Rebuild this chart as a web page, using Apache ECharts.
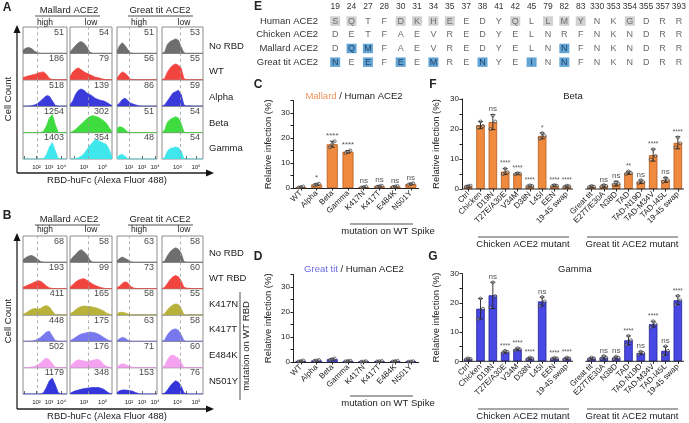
<!DOCTYPE html>
<html>
<head>
<meta charset="utf-8">
<script src="https://cdn.jsdelivr.net/npm/echarts@6/dist/echarts.min.js"></script>
<style>
  html, body { margin: 0; padding: 0; background: #fff; }
  #main { width: 689px; height: 423px; }
</style>
</head>
<body>
<div id="main"></div>
<script>
// ---------- A / B : flow cytometry histograms ----------
// log10 range shown by each column, gate line, decade labels
var colRange = [[0.92, 4.44], [1.5, 6.0], [1.08, 4.15], [1.36, 5.75]];
var colGate = [2.07, 3.46, 2.02, 3.29];
var colLabels = [[2, 3, 4], [3, 5], [2, 3, 4], [3, 5]];
var colTicks = [[1, 2, 3, 4], [2, 3, 4, 5], [2, 3, 4], [2, 3, 4, 5]];

var aRows = ['No RBD', 'WT', 'Alpha', 'Beta', 'Gamma'];
var aMFI = [[51, 54, 51, 53], [186, 79, 56, 55], [518, 139, 86, 59], [1254, 302, 51, 54], [1403, 354, 48, 54]];
var aColors = ['#6e6e6e', '#f2443f', '#3b3bdc', '#3fdc3f', '#3fe6ec'];
var aHist = [
  [[0.12,0.2,0.22,0.18,0.08,0.02,0,0,0,0,0,0,0,0,0,0],
   [0.05,0.18,0.3,0.4,0.45,0.38,0.25,0.05,0,0,0,0,0,0,0,0],
   [0.08,0.3,0.4,0.3,0.15,0.02,0,0,0,0,0,0,0,0,0,0],
   [0,0.05,0.35,0.45,0.5,0.55,0.5,0.25,0.02,0,0,0,0,0,0,0]],
  [[0.08,0.12,0.15,0.18,0.2,0.25,0.28,0.3,0.2,0.05,0.01,0,0,0,0,0],
   [0.1,0.3,0.4,0.45,0.38,0.3,0.25,0.2,0.15,0.1,0.08,0.05,0.02,0,0,0],
   [0.05,0.2,0.3,0.25,0.15,0.02,0,0,0,0,0,0,0,0,0,0],
   [0,0.05,0.3,0.45,0.55,0.6,0.55,0.45,0.05,0,0,0,0,0,0,0]],
  [[0,0,0,0.02,0.05,0.1,0.2,0.3,0.4,0.38,0.2,0.03,0,0,0,0],
   [0.05,0.2,0.45,0.6,0.65,0.6,0.5,0.45,0.38,0.3,0.25,0.22,0.2,0.15,0.08,0.02],
   [0.03,0.12,0.25,0.3,0.22,0.12,0.08,0.05,0.02,0,0,0,0,0,0,0],
   [0,0.05,0.2,0.35,0.5,0.55,0.6,0.45,0.05,0,0.02,0,0,0,0,0]],
  [[0,0,0,0,0,0,0,0.05,0.25,0.55,0.68,0.3,0,0,0,0],
   [0,0.05,0.12,0.22,0.32,0.42,0.52,0.6,0.64,0.62,0.58,0.52,0.45,0.35,0.18,0.04],
   [0.15,0.22,0.2,0.12,0.02,0,0,0,0,0,0,0,0,0,0,0],
   [0,0.1,0.4,0.5,0.55,0.6,0.55,0.35,0.02,0,0,0,0,0,0,0]],
  [[0,0,0,0,0,0,0,0.02,0.15,0.45,0.62,0.3,0.02,0,0,0],
   [0,0,0.02,0.05,0.1,0.2,0.35,0.5,0.62,0.74,0.7,0.65,0.6,0.55,0.35,0.08],
   [0.05,0.15,0.17,0.1,0.02,0,0,0,0,0,0,0,0,0,0,0],
   [0,0.05,0.3,0.4,0.42,0.45,0.43,0.3,0.02,0,0,0,0,0,0,0]]
];

var bRows = ['No RBD', 'WT RBD', 'K417N', 'K417T', 'E484K', 'N501Y'];
var bMFI = [[68, 58, 63, 58], [193, 99, 73, 60], [411, 165, 58, 55], [448, 175, 63, 58], [502, 176, 71, 60], [1179, 348, 153, 76]];
var bColors = ['#6e6e6e', '#f2443f', '#b8b23a', '#7878ee', '#f5a3f0', '#3535dc'];
var bHist = [
  [[0.1,0.18,0.24,0.26,0.2,0.12,0.03,0,0,0,0,0,0,0,0,0],
   [0.05,0.2,0.3,0.42,0.48,0.4,0.3,0.1,0.01,0,0,0,0,0,0,0],
   [0.05,0.15,0.2,0.15,0.1,0.03,0,0,0,0,0,0,0,0,0,0],
   [0,0.05,0.25,0.4,0.5,0.55,0.5,0.35,0.03,0,0,0,0,0,0,0]],
  [[0.05,0.1,0.15,0.2,0.25,0.3,0.28,0.2,0.1,0.03,0.01,0,0,0,0,0],
   [0.05,0.15,0.25,0.32,0.36,0.38,0.32,0.25,0.18,0.12,0.08,0.04,0.02,0,0,0],
   [0.03,0.1,0.2,0.26,0.22,0.1,0.03,0.01,0,0,0,0,0,0,0,0],
   [0,0.05,0.2,0.35,0.45,0.5,0.45,0.3,0.05,0.02,0.01,0,0,0,0,0]],
  [[0.02,0.08,0.15,0.22,0.25,0.22,0.25,0.32,0.36,0.3,0.15,0.02,0,0,0,0],
   [0.05,0.1,0.2,0.28,0.32,0.34,0.33,0.32,0.3,0.28,0.25,0.2,0.15,0.08,0.03,0],
   [0.05,0.1,0.1,0.08,0.05,0.02,0,0,0,0,0,0,0,0,0,0],
   [0,0.05,0.2,0.3,0.38,0.42,0.4,0.25,0.02,0,0,0,0,0,0,0]],
  [[0,0,0,0.01,0.03,0.08,0.15,0.25,0.35,0.38,0.2,0.03,0,0,0,0],
   [0.02,0.08,0.15,0.22,0.28,0.3,0.33,0.35,0.34,0.32,0.28,0.22,0.15,0.08,0.03,0],
   [0.02,0.1,0.15,0.12,0.05,0.01,0,0,0,0,0,0,0,0,0,0],
   [0,0.05,0.25,0.38,0.45,0.47,0.42,0.25,0.03,0,0,0,0,0,0,0]],
  [[0,0,0.01,0.03,0.05,0.1,0.18,0.3,0.36,0.3,0.15,0.02,0,0,0,0],
   [0.05,0.15,0.25,0.3,0.28,0.25,0.22,0.25,0.28,0.3,0.32,0.25,0.12,0.05,0.02,0],
   [0.03,0.1,0.15,0.12,0.08,0.04,0.02,0,0,0,0,0,0,0,0,0],
   [0,0.08,0.3,0.45,0.48,0.42,0.35,0.2,0.03,0,0,0,0,0,0,0]],
  [[0,0,0,0,0,0,0,0.05,0.25,0.5,0.6,0.35,0.05,0,0,0],
   [0.02,0.08,0.12,0.15,0.18,0.2,0.22,0.23,0.25,0.24,0.25,0.22,0.18,0.1,0.03,0],
   [0.05,0.12,0.15,0.15,0.14,0.12,0.1,0.05,0.02,0,0,0,0,0,0,0],
   [0,0.03,0.15,0.3,0.42,0.5,0.45,0.3,0.05,0,0,0,0,0,0,0]]
];

// ---------- E : alignment ----------
var ePositions = ['19','24','27','28','30','31','34','35','37','38','41','42','45','79','82','83','330','353','354','355','357','393'];
var eSpecies = ['Human ACE2', 'Chicken ACE2', 'Mallard ACE2', 'Great tit ACE2'];
var eSeqs = ['SQTFDKHEEDYQLLMYNKGDRR', 'DETFAEVREDYELNRFNKNDRR', 'DQMFAEVREDYELNNFNKNDRR', 'NEEFEEMRENYEINNFNKNDRR'];
var humanShaded = ['19','24','30','31','34','35','42','79','82','83','354'];
var mallardBlue = ['24','27','82'];
var greatTitBlue = ['19','27','30','34','38','45','82'];

// ---------- C / D : variant spikes ----------
var spikeCats = ['WT', 'Alpha', 'Beta', 'Gamma', 'K417N', 'K417T', 'E484K', 'N501Y'];
var cMean = [0.4, 1.4, 17.5, 14.5, 0.4, 0.7, 0.6, 1.6];
var cSD = [0.15, 0.3, 1.2, 0.5, 0.15, 0.2, 0.15, 0.3];
var cDots = [[0.2,0.4,0.6],[1.1,1.4,1.7],[16.3,17.5,18.7],[14.0,14.5,15.0],[0.2,0.4,0.6],[0.5,0.7,0.9],[0.4,0.6,0.8],[1.3,1.6,1.9]];
var cSig = ['', '*', '****', '****', 'ns', 'ns', 'ns', 'ns'];
var dMean = [0.4, 0.6, 1.1, 0.4, 0.2, 0.3, 0.35, 0.2];
var dSD = [0.2, 0.2, 0.3, 0.1, 0.1, 0.1, 0.15, 0.1];
var dDots = [[0.2,0.4,0.6],[0.4,0.6,0.8],[0.8,1.1,1.4],[0.3,0.4,0.5],[0.1,0.2,0.3],[0.2,0.3,0.4],[0.2,0.35,0.5],[0.1,0.2,0.3]];
var dSig = ['', '', '', '', '', '', '', ''];

// ---------- F / G : ACE2 mutants ----------
var mutCats = ['Ctrl', 'Chicken', 'D19N', 'T27E/A30E', 'V34M', 'D38N', 'L45I', 'EEN', '19-45 swap', '',
  'Great tit', 'E27T/E30A', 'N38D', 'TAD', 'TAD-N19D', 'TAD-M34V', 'TAD-I45L', '19-45 swap'];
var fMean = [0.9, 21.3, 22.3, 5.8, 5.1, 1.0, 17.7, 1.1, 0.9, null, 0.8, 1.0, 1.8, 5.4, 2.4, 11.3, 3.0, 15.4];
var fSD = [0.3, 1.2, 2.5, 1.0, 0.3, 0.3, 1.0, 0.3, 0.3, null, 0.3, 0.4, 0.8, 0.5, 0.6, 2.0, 0.8, 2.0];
var fDots = [[0.7,0.9,1.1],[20.5,22.5,21.0],[20.0,24.5,22.5],[5.0,6.8,5.6],[4.9,5.3,5.1],[0.8,1.2,1.0],[16.8,18.6,17.7],[0.9,1.3,1.1],[0.7,1.1,0.9],null,
  [0.6,1.0,0.8],[0.8,1.3,1.0],[1.5,2.2,1.7],[5.0,5.9,5.3],[2.0,2.9,2.3],[9.8,13.2,11.0],[2.4,3.7,2.9],[13.8,17.2,15.2]];
var fSig = ['', '', 'ns', '****', '****', '****', '*', '****', '****', '', '', 'ns', 'ns', '**', 'ns', '****', 'ns', '****'];
var gMean = [0.8, 18.0, 22.6, 3.2, 4.1, 1.0, 20.5, 1.0, 1.0, null, 1.0, 1.3, 1.2, 7.2, 2.8, 12.7, 3.6, 20.9];
var gSD = [0.3, 3.5, 4.5, 0.4, 0.4, 0.3, 1.5, 0.2, 0.3, null, 0.3, 0.5, 0.4, 1.5, 0.5, 1.0, 1.5, 1.5];
var gDots = [[0.6,1.0,0.8],[14.5,21.5,18.0],[18.5,27.0,22.3],[2.8,3.6,3.2],[3.7,4.5,4.1],[0.7,1.3,1.0],[19.0,22.0,20.5],[0.8,1.2,1.0],[0.7,1.3,1.0],null,
  [0.7,1.3,1.0],[0.9,1.8,1.2],[0.8,1.6,1.2],[5.7,8.7,7.2],[2.3,3.3,2.8],[11.7,13.7,12.7],[2.1,5.1,3.6],[19.4,22.4,20.9]];
var gSig = ['', '', 'ns', '****', '****', '****', 'ns', '****', '****', '', '', 'ns', 'ns', '****', 'ns', '****', 'ns', '****'];

var FONT = 'Liberation Sans, Arial, sans-serif';
var SUP = { 1: '\u00b9', 2: '\u00b2', 3: '\u00b3', 4: '\u2074', 5: '\u2075' };
var ORANGE = '#ef8a3e', BLUE = '#4848e4';

var grids = [], xAxes = [], yAxes = [], series = [], graphics = [];

function addGrid(g, x, y) {
  var i = grids.length;
  grids.push(g);
  x.gridIndex = i; y.gridIndex = i;
  xAxes.push(x); yAxes.push(y);
  return i;
}

// flow histogram block
var colBox = [[23, 67], [70, 112], [117, 157], [162, 203]];
function flowPanel(top, bottom, hist, mfi, colors) {
  var n = hist.length, h = (bottom - top) / n;
  for (var r = 0; r < n; r++) {
    for (var c = 0; c < 4; c++) {
      var last = r === n - 1;
      var lo = colRange[c][0], hi = colRange[c][1];
      var idx = addGrid(
        { left: colBox[c][0], width: colBox[c][1] - colBox[c][0], top: top + r * h, height: h,
          show: true, borderColor: '#8c8c8c', borderWidth: 1 },
        { type: 'value', min: lo, max: hi, splitLine: { show: false }, axisLine: { show: false },
          axisTick: { show: last, inside: true, length: 3, customValues: colTicks[c], lineStyle: { color: '#444', width: 0.8 } },
          axisLabel: { show: last, customValues: colLabels[c], fontSize: 6, margin: 5, color: '#222',
            formatter: function (v) { return '10' + SUP[Math.round(v)]; } } },
        { type: 'value', min: 0, max: 1, show: false }
      );
      var vals = hist[r][c];
      var step = (hi - lo) / (vals.length - 1);
      series.push({
        type: 'line', xAxisIndex: idx, yAxisIndex: idx, silent: true, symbol: 'none',
        data: vals.map(function (v, i) { return [lo + i * step, v]; }),
        lineStyle: { color: colors[r], width: 0.8 }, areaStyle: { color: colors[r], opacity: 1 },
        markLine: { symbol: 'none', silent: true, label: { show: false },
          lineStyle: { type: [3, 3], color: '#9a9a9a', width: 0.8 }, data: [{ xAxis: colGate[c] }] }
      });
      series.push({
        type: 'scatter', xAxisIndex: idx, yAxisIndex: idx, silent: true, symbolSize: 0,
        data: [[hi, 0.8]],
        label: { show: true, position: 'left', distance: 3, formatter: String(mfi[r][c]), fontSize: 9, color: '#111' }
      });
    }
  }
}
flowPanel(27, 159, aHist, aMFI, aColors);
flowPanel(236, 394, bHist, bMFI, bColors);

// bar chart panels with error bars, replicate dots and significance
function barRender(sigs, base, sigSize) {
  return function (params, api) {
    var i = api.value(0), m = api.value(1), sd = api.value(2);
    var p0 = api.coord([i, 0]);
    var pt = api.coord([i, m + sd]);
    var pb = api.coord([i, Math.max(m - sd, 0)]);
    var band = api.size([1, 0])[0];
    var ln = { stroke: '#222', lineWidth: 0.9 };
    var kids = [];
    if (base) {
      kids.push({ type: 'line', shape: { x1: p0[0] - band / 2, y1: p0[1], x2: p0[0] + band / 2, y2: p0[1] }, style: { stroke: '#222', lineWidth: 1 } });
    }
    kids.push({ type: 'line', shape: { x1: pt[0], y1: pt[1], x2: pb[0], y2: pb[1] }, style: ln });
    kids.push({ type: 'line', shape: { x1: pt[0] - 2.5, y1: pt[1], x2: pt[0] + 2.5, y2: pt[1] }, style: ln });
    kids.push({ type: 'line', shape: { x1: pb[0] - 2.5, y1: pb[1], x2: pb[0] + 2.5, y2: pb[1] }, style: ln });
    for (var k = 0; k < 3; k++) {
      var p = api.coord([i, api.value(3 + k)]);
      kids.push({ type: 'circle', shape: { cx: p[0] + (k - 1) * 2.4, cy: p[1], r: 1.5 },
        style: { fill: 'rgba(255,255,255,0.3)', stroke: '#333', lineWidth: 0.7 } });
    }
    if (sigs[i]) {
      var s = sigs[i] === 'ns' ? 8 : sigSize;
      kids.push({ type: 'text', style: { text: sigs[i], x: pt[0], y: pt[1] - 1.5, align: 'center', verticalAlign: 'bottom',
        font: s + 'px ' + FONT, fill: '#555' } });
    }
    return { type: 'group', children: kids };
  };
}

function barPanel(o) {
  var idx = addGrid(
    { left: o.left, width: o.width, top: o.top, height: o.height },
    { type: 'category', data: o.cats, boundaryGap: true,
      axisLine: { show: !o.broken, lineStyle: { color: '#222', width: 1 } },
      axisTick: { show: true, alignWithLabel: true, length: 2.5, lineStyle: { color: '#222' },
        interval: function (i, v) { return v !== ''; } },
      axisLabel: { interval: 0, rotate: 45, fontSize: 8, margin: 4, color: '#222' } },
    { type: 'value', min: 0, max: o.max, interval: 10, splitLine: { show: false },
      axisLine: { show: true, lineStyle: { color: '#222', width: 1 } },
      axisTick: { show: true, length: 2.5, customValues: o.ticks, lineStyle: { color: '#222' } },
      axisLabel: { customValues: [0, 10, 20, 30], fontSize: 8, margin: 3, color: '#222' },
      name: 'Relative infection (%)', nameLocation: 'middle', nameGap: o.nameGap,
      nameTextStyle: { fontSize: 9.5, color: '#222' } }
  );
  series.push({
    type: 'bar', xAxisIndex: idx, yAxisIndex: idx, silent: true, barWidth: o.barWidth,
    data: o.mean, itemStyle: { color: o.color, borderColor: o.border, borderWidth: 0.8 }
  });
  var items = [];
  o.mean.forEach(function (m, i) {
    if (m === null) return;
    items.push([i, m, o.sd[i], o.dots[i][0], o.dots[i][1], o.dots[i][2]]);
  });
  series.push({
    type: 'custom', xAxisIndex: idx, yAxisIndex: idx, silent: true, z: 5,
    encode: { x: 0, y: 1 }, data: items, renderItem: barRender(o.sig, o.broken, o.sigSize)
  });
}

barPanel({ left: 293, width: 125.7, top: 100.5, height: 87.5, max: 35, ticks: [0, 5, 10, 15, 20, 25, 30, 35], nameGap: 20,
  cats: spikeCats, mean: cMean, sd: cSD, dots: cDots, sig: cSig, sigSize: 8, barWidth: 11, color: ORANGE, border: '#b45a1c' });
barPanel({ left: 293, width: 125.7, top: 274.5, height: 87.5, max: 35, ticks: [0, 5, 10, 15, 20, 25, 30, 35], nameGap: 20,
  cats: spikeCats, mean: dMean, sd: dSD, dots: dDots, sig: dSig, sigSize: 8, barWidth: 11, color: BLUE, border: '#22229a' });
barPanel({ left: 462, width: 222, top: 99, height: 90, max: 30, ticks: [0, 5, 10, 15, 20, 25, 30], nameGap: 21, broken: true,
  cats: mutCats, mean: fMean, sd: fSD, dots: fDots, sig: fSig, sigSize: 6.5, barWidth: 8.5, color: ORANGE, border: '#b45a1c' });
barPanel({ left: 462, width: 222, top: 273.7, height: 87.6, max: 30, ticks: [0, 5, 10, 15, 20, 25, 30], nameGap: 21, broken: true,
  cats: mutCats, mean: gMean, sd: gSD, dots: gDots, sig: gSig, sigSize: 6.5, barWidth: 8.5, color: BLUE, border: '#22229a' });

// alignment table (E)
var eIdx = addGrid(
  { left: 327, width: 360.8, top: 14.2, height: 54.8 },
  { type: 'category', data: ePositions, position: 'top', axisLine: { show: false }, axisTick: { show: false },
    axisLabel: { interval: 0, fontSize: 8.5, margin: 3, color: '#333' } },
  { type: 'category', data: eSpecies, inverse: true, axisLine: { show: false }, axisTick: { show: false },
    axisLabel: { fontSize: 9.5, margin: 9, color: '#333' } }
);
var eMarks = [[humanShaded, 'gray'], [[], ''], [mallardBlue, 'blue'], [greatTitBlue, 'blue']];
var eCells = [];
eSeqs.forEach(function (seq, r) {
  for (var i = 0; i < seq.length; i++) {
    var mark = eMarks[r][0].indexOf(ePositions[i]) >= 0 ? eMarks[r][1] : '';
    eCells.push({
      value: [i, r], letter: seq[i],
      itemStyle: { color: mark === 'gray' ? '#c6c6c6' : mark === 'blue' ? '#3b8ecb' : 'rgba(0,0,0,0)' },
      label: { color: mark === 'blue' ? '#10264a' : mark === 'gray' ? '#555' : '#444' }
    });
  }
});
series.push({
  type: 'scatter', xAxisIndex: eIdx, yAxisIndex: eIdx, silent: true, symbol: 'rect', symbolSize: [10, 9.5],
  data: eCells,
  label: { show: true, position: 'inside', fontSize: 9, formatter: function (p) { return p.data.letter; } }
});

// ---------- annotations ----------
function txt(s, x, y, size, opts) {
  opts = opts || {};
  graphics.push({
    type: 'text', x: x, y: y, rotation: opts.rot || 0, silent: true,
    style: { text: s, align: opts.align || 'center', verticalAlign: 'middle',
      font: (opts.bold ? 'bold ' : '') + size + 'px ' + FONT, fill: opts.fill || '#222', rich: opts.rich }
  });
}
function seg(x1, y1, x2, y2, w) {
  graphics.push({ type: 'line', silent: true, shape: { x1: x1, y1: y1, x2: x2, y2: y2 }, style: { stroke: '#222', lineWidth: w || 0.8 } });
}
function tri(pts) {
  graphics.push({ type: 'polygon', silent: true, shape: { points: pts }, style: { fill: '#111' } });
}

// panel letters
txt('A', 7, 8, 12, { bold: true }); txt('B', 7, 216, 12, { bold: true });
txt('E', 258, 7, 12, { bold: true }); txt('C', 258, 85, 12, { bold: true });
txt('F', 433, 85, 12, { bold: true }); txt('D', 258, 257, 12, { bold: true });
txt('G', 433, 257, 12, { bold: true });

// flow panel headers, axes, row labels
function flowDeco(top, headY, lineY, subY, axisTop, axisY, rows, rowY, xTitleY) {
  txt('Mallard ACE2', 69, headY, 9.5); seg(35, lineY, 100, lineY);
  txt('high', 45, subY, 8.5); txt('low', 91, subY, 8.5);
  txt('Great tit ACE2', 160, headY, 9.5); seg(128, lineY, 193, lineY);
  txt('high', 139, subY, 8.5); txt('low', 184, subY, 8.5);
  seg(17, axisTop + 6, 17, axisY, 1.3); seg(17, axisY, 208, axisY, 1.3);
  tri([[17, axisTop], [13.5, axisTop + 8], [20.5, axisTop + 8]]);
  tri([[214, axisY], [206, axisY - 3.5], [206, axisY + 3.5]]);
  txt('Cell Count', 8, (axisTop + axisY) / 2, 9.5, { rot: Math.PI / 2 });
  txt('RBD-huFc (Alexa Fluor 488)', 107, xTitleY, 9.5);
  rows.forEach(function (s, i) { txt(s, 209, rowY[i], 9.5, { align: 'left' }); });
}
flowDeco(27, 10, 16, 23, 25, 173, aRows, [46, 71, 97, 123, 148], 180);
flowDeco(236, 219, 225, 230, 233, 409, bRows, [253, 278, 304, 329, 355, 381], 416);
seg(240, 292, 240, 400);
txt('mutation on WT RBD', 246, 346, 9.5, { rot: Math.PI / 2 });

// bar panel titles and group labels
txt('{o|Mallard} / Human ACE2', 354, 96, 9.5, { rich: { o: { fill: '#e8925a', font: '9.5px ' + FONT } } });
txt('{b|Great tit} / Human ACE2', 354, 269, 9.5, { rich: { b: { fill: '#6a6ae0', font: '9.5px ' + FONT } } });
txt('Beta', 573, 96, 9.5);
txt('Gamma', 575, 269, 9.5);
seg(350, 224, 413, 224); txt('mutation on WT Spike', 388, 231, 9.5);
seg(350, 396, 413, 396); txt('mutation on WT Spike', 388, 403, 9.5);
seg(478, 237, 569, 237); txt('Chicken ACE2 mutant', 523, 244, 9.5);
seg(587, 237, 678, 237); txt('Great tit ACE2 mutant', 632, 244, 9.5);
seg(478, 409, 569, 409); txt('Chicken ACE2 mutant', 523, 416, 9.5);
seg(587, 409, 678, 409); txt('Great tit ACE2 mutant', 632, 416, 9.5);

var myChart = echarts.init(document.getElementById('main'));
myChart.setOption({
  animation: false,
  backgroundColor: '#fff',
  textStyle: { fontFamily: FONT },
  grid: grids,
  xAxis: xAxes,
  yAxis: yAxes,
  series: series,
  graphic: { elements: graphics }
});
</script>
</body>
</html>
